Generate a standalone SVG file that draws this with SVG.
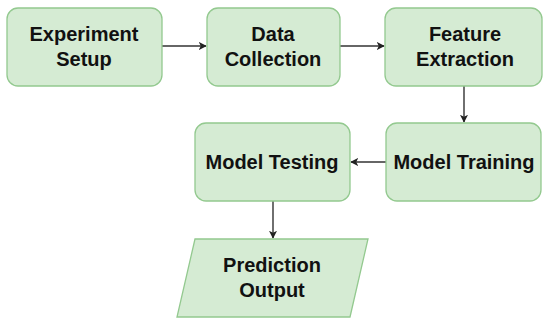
<svg xmlns="http://www.w3.org/2000/svg" width="550" height="325" viewBox="0 0 550 325">
<defs>
<style>
.box{fill:#d5ebd3;stroke:#93c98f;stroke-width:1.3}
.lbl{font-family:"Liberation Sans",Arial,sans-serif;font-weight:bold;font-size:20px;fill:#111;text-anchor:middle}
.edge{stroke:#333;stroke-width:1.4;fill:none;marker-end:url(#ah)}
</style>
<marker id="ah" viewBox="0 0 10 10" refX="9" refY="5" markerWidth="8" markerHeight="8" markerUnits="userSpaceOnUse" orient="auto">
<path d="M0,0 L10,5 L0,10 L2.5,5 Z" fill="#222"/>
</marker>
</defs>
<rect width="550" height="325" fill="#fff"/>
<g id="connectors">
<line class="edge" x1="162" y1="46" x2="206" y2="46"/>
<line class="edge" x1="340" y1="46" x2="384" y2="46"/>
<line class="edge" x1="464" y1="86" x2="464" y2="122"/>
<line class="edge" x1="386" y1="162" x2="351" y2="162"/>
<line class="edge" x1="273" y1="201" x2="273" y2="238"/>
</g>
<g id="experiment-setup">
<rect class="box" x="7" y="8" width="155" height="78" rx="11"/>
<text class="lbl" x="84" y="41">Experiment</text>
<text class="lbl" x="84" y="66">Setup</text>
</g>
<g id="data-collection">
<rect class="box" x="207" y="8" width="133" height="78" rx="11"/>
<text class="lbl" x="273" y="41">Data</text>
<text class="lbl" x="273" y="66">Collection</text>
</g>
<g id="feature-extraction">
<rect class="box" x="385" y="8" width="157" height="78" rx="11"/>
<text class="lbl" x="465" y="41">Feature</text>
<text class="lbl" x="465" y="66">Extraction</text>
</g>
<g id="model-training">
<rect class="box" x="386" y="123" width="155" height="78" rx="11"/>
<text class="lbl" x="464" y="169">Model Training</text>
</g>
<g id="model-testing">
<rect class="box" x="195" y="123" width="155" height="78" rx="11"/>
<text class="lbl" x="272" y="169">Model Testing</text>
</g>
<g id="prediction-output">
<polygon class="box" points="195,239 368,239 350,317 177,317"/>
<text class="lbl" x="272" y="272">Prediction</text>
<text class="lbl" x="272" y="297">Output</text>
</g>
</svg>
